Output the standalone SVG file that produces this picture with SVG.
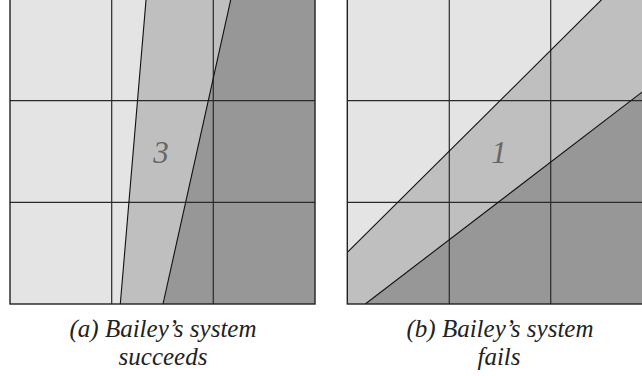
<svg xmlns="http://www.w3.org/2000/svg" width="642" height="376" viewBox="0 0 642 376">
<style>
.light{fill:#e4e4e4}
.mid{fill:#bfbfbf}
.dark{fill:#979797}
.grid{stroke:#2a2a2a;stroke-width:1.2;fill:none}
.cut{stroke:#111;stroke-width:1.1;fill:none}
.border{stroke:#222;stroke-width:1.4;fill:none}
.num{font-family:"Liberation Serif",serif;font-style:italic;font-size:31px;fill:#666;text-anchor:middle}
.cap{font-family:"Liberation Serif",serif;font-style:italic;font-size:25px;fill:#222;text-anchor:middle}
</style>
<rect width="642" height="376" fill="#ffffff"/>
<g id="panel-a">
<rect class="light" x="10" y="-1" width="305" height="305"/>
<polygon class="mid" points="146.1,-1 315,-1 315,304 120.3,304"/>
<polygon class="dark" points="230.9,-1 315,-1 315,304 163,304"/>
<g class="grid">
<line x1="111.7" y1="-1" x2="111.7" y2="304"/>
<line x1="213.3" y1="-1" x2="213.3" y2="304"/>
<line x1="10" y1="100.7" x2="315" y2="100.7"/>
<line x1="10" y1="202.3" x2="315" y2="202.3"/>
</g>
<g class="cut">
<line x1="146.1" y1="-1" x2="120.3" y2="304"/>
<line x1="230.9" y1="-1" x2="163" y2="304"/>
</g>
<rect class="border" x="10" y="-1" width="305" height="305"/>
<text class="num" x="161" y="163">3</text>
</g>
<g id="panel-b">
<rect class="light" x="347.3" y="-1" width="305" height="305"/>
<polygon class="mid" points="602.3,-1 652,-1 652,304 347.3,304 347.3,252.3"/>
<polygon class="dark" points="365.3,304 652,84.5 652,304"/>
<g class="grid">
<line x1="449.3" y1="-1" x2="449.3" y2="304"/>
<line x1="550.7" y1="-1" x2="550.7" y2="304"/>
<line x1="347.3" y1="100.7" x2="652" y2="100.7"/>
<line x1="347.3" y1="202.3" x2="652" y2="202.3"/>
</g>
<g class="cut">
<line x1="602.3" y1="-1" x2="347.3" y2="252.3"/>
<line x1="365.3" y1="304" x2="652" y2="84.5"/>
</g>
<rect class="border" x="347.3" y="-1" width="305" height="305"/>
<text class="num" x="499" y="163">1</text>
</g>
<g id="captions">
<text class="cap" x="163" y="337">(a) Bailey’s system</text>
<text class="cap" x="163" y="365">succeeds</text>
<text class="cap" x="500" y="337">(b) Bailey’s system</text>
<text class="cap" x="499" y="365">fails</text>
</g>
</svg>
